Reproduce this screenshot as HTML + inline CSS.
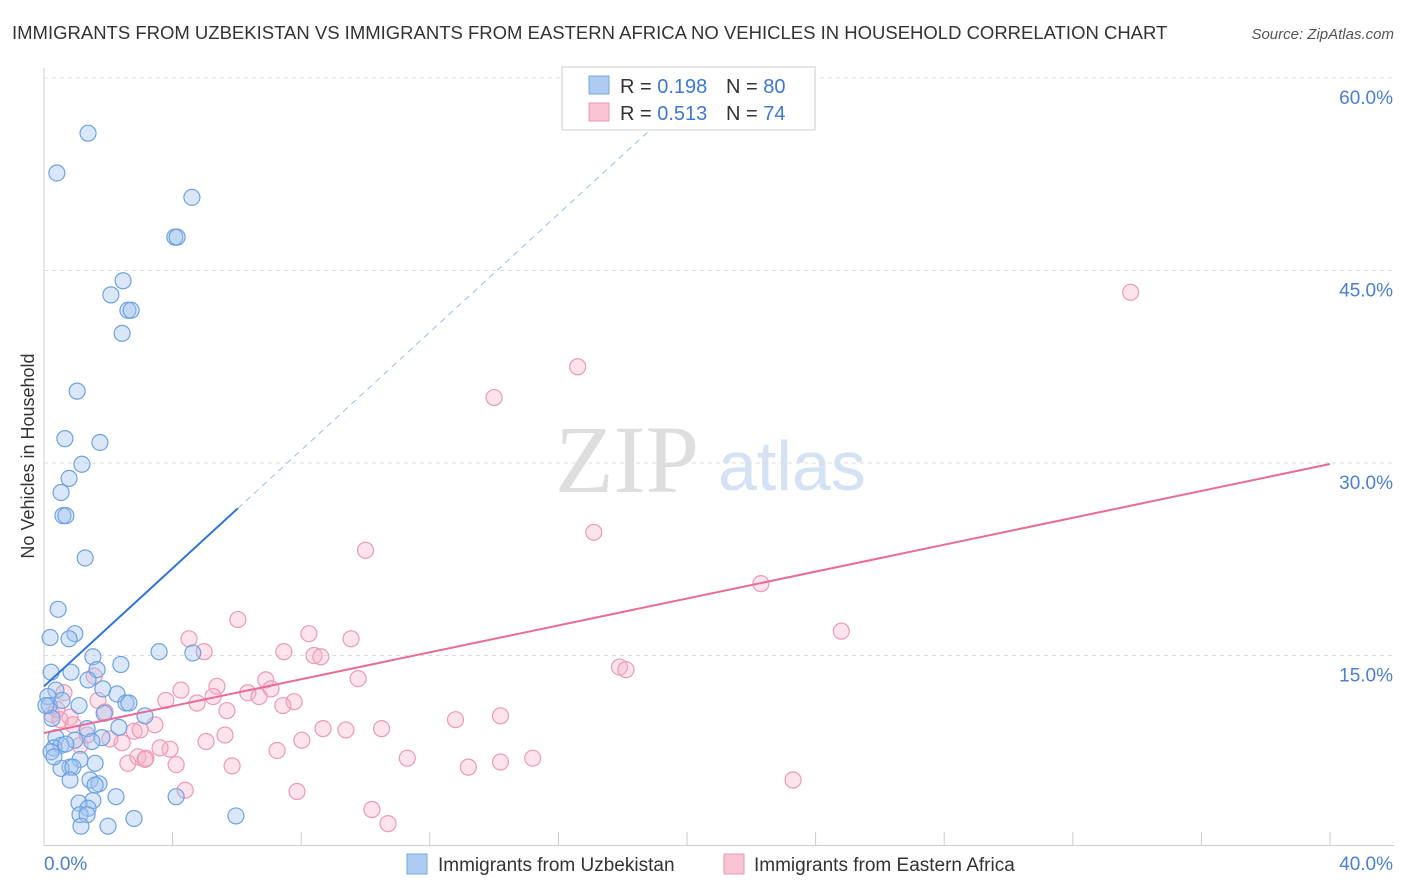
<!DOCTYPE html>
<html><head><meta charset="utf-8"><style>
body{margin:0;background:#fff;font-family:"Liberation Sans",sans-serif;}
#wrap{position:relative;width:1406px;height:892px;overflow:hidden}
</style></head><body>
<div id="wrap">
<svg id="svg" width="1406" height="892" xmlns="http://www.w3.org/2000/svg">
<text x="12" y="39" font-size="18.5" fill="#333">IMMIGRANTS FROM UZBEKISTAN VS IMMIGRANTS FROM EASTERN AFRICA NO VEHICLES IN HOUSEHOLD CORRELATION CHART</text>
<text x="1394" y="39" font-size="15" fill="#555" font-style="italic" text-anchor="end">Source: ZipAtlas.com</text>
<text transform="translate(34,456) rotate(-90)" font-size="18" fill="#333" text-anchor="middle">No Vehicles in Household</text>
<text x="555" y="492" font-size="96" fill="#dedede" font-family="Liberation Serif,serif">ZIP</text>
<text x="718" y="490" font-size="70" fill="#d4e2f4">atlas</text>
<g id="grid"></g><g id="pts"></g><g id="lines"></g>
<g>
<rect x="562" y="67" width="253" height="63" fill="#fff" stroke="#ccc"/>
<rect x="589" y="76" width="20" height="18" fill="#aecbf2" stroke="#7aa6e0"/>
<rect x="589" y="103" width="20" height="18" fill="#f8c4d4" stroke="#ec9ab5"/>
<text x="620" y="93" font-size="20" fill="#333">R = <tspan fill="#3c78d8">0.198</tspan></text>
<text x="726" y="93" font-size="20" fill="#333">N = <tspan fill="#3c78d8">80</tspan></text>
<text x="620" y="120" font-size="20" fill="#333">R = <tspan fill="#3c78d8">0.513</tspan></text>
<text x="726" y="120" font-size="20" fill="#333">N =  <tspan fill="#3c78d8">74</tspan></text>
</g>
<g>
<rect x="407" y="854" width="20" height="20" fill="#aecbf2" stroke="#7aa6e0"/>
<text x="438" y="871" font-size="19" fill="#333">Immigrants from Uzbekistan</text>
<rect x="724" y="854" width="20" height="20" fill="#f8c4d4" stroke="#ec9ab5"/>
<text x="754" y="871" font-size="19" fill="#333">Immigrants from Eastern Africa</text>
</g>
</svg></div>
<script>
const xTicks=[0,4,8,12,16,20,24,28,32,36,40];
const yTicks=[15,30,45,60];
const blueX=[1.37,0.40,4.60,4.07,4.14,2.46,2.08,2.61,2.71,2.43,1.03,0.65,1.74,0.78,1.18,0.53,0.59,0.68,1.28,0.44,0.19,0.96,0.78,1.52,1.65,2.39,3.58,4.63,0.22,0.84,1.37,0.37,1.83,2.27,2.55,2.64,3.14,0.12,0.16,1.09,1.87,0.25,1.34,2.33,0.37,0.96,1.80,0.53,0.31,0.68,1.49,0.22,1.12,1.59,0.81,0.53,0.90,1.43,0.81,1.71,1.59,2.24,1.52,1.09,1.37,1.12,1.34,2.80,1.99,1.15,5.97,4.11,0.06,0.56,0.31];
const blueY=[55.7,52.6,50.7,47.6,47.6,44.2,43.1,41.9,41.9,40.1,35.6,31.9,31.6,28.8,29.9,27.7,25.9,25.9,22.6,18.6,16.4,16.7,16.3,14.9,13.9,14.3,15.3,15.2,13.7,13.7,13.1,12.3,12.4,12.0,11.3,11.3,10.3,11.8,11.1,11.1,10.5,10.1,9.3,9.4,8.6,8.4,8.6,8.0,7.8,8.1,8.3,7.5,6.9,6.6,6.3,6.2,6.3,5.3,5.3,5.0,4.9,4.0,3.7,3.5,3.1,2.6,2.6,2.3,1.7,1.7,2.5,4.0,11.1,11.5,7.1];
const pinkX=[33.8,16.6,14.0,17.1,10.0,22.3,6.03,24.8,8.24,9.55,4.51,4.98,7.46,8.40,8.61,17.9,18.1,6.90,9.77,1.56,4.26,5.38,6.34,7.06,3.79,5.26,6.69,7.78,7.43,5.69,4.76,0.25,0.81,1.90,0.40,12.8,14.2,3.45,8.68,9.39,10.5,5.63,2.80,2.05,2.43,1.34,5.04,8.02,3.92,3.61,7.25,2.92,3.17,3.14,2.61,4.11,5.85,11.3,13.2,14.2,15.2,23.3,4.39,7.87,10.2,10.7,0.62,0.90,0.50,1.68,1.12,2.99];
const pinkY=[43.3,37.5,35.1,24.6,23.2,20.6,17.8,16.9,16.7,16.3,16.3,15.3,15.3,15.0,14.9,14.1,13.9,13.1,13.2,13.4,12.3,12.6,12.1,12.4,11.5,11.8,11.8,11.4,11.1,10.7,11.3,10.4,10.2,10.6,10.8,10.0,10.3,9.6,9.3,9.2,9.3,8.8,9.1,8.5,8.2,8.8,8.3,8.4,7.7,7.8,7.6,7.1,7.0,6.9,6.6,6.5,6.4,7.0,6.3,6.7,7.0,5.3,4.5,4.4,3.0,1.9,12.1,9.6,10.0,11.5,8.0,9.2];
const blueFit=[12.6,2.30];
const pinkFit=[8.96,0.524];
const NS="http://www.w3.org/2000/svg";
const X=v=>44+v/40*1286, Y=v=>848-v/15*192.5;
function mk(t,a,p){const e=document.createElementNS(NS,t);for(const k in a)e.setAttribute(k,a[k]);p.appendChild(e);return e;}
const grid=document.getElementById('grid');
mk('line',{x1:44,y1:68,x2:44,y2:846,stroke:'#ccc'},grid);
mk('line',{x1:44,y1:845.5,x2:1394,y2:845.5,stroke:'#ccc'},grid);
yTicks.forEach(t=>{
 const l=mk('line',{x1:44,y1:Y(t),x2:1394,y2:Y(t),stroke:'#ddd','stroke-dasharray':'4,4'},grid);
 
 
 const tx=mk('text',{x:1393,y:Y(t)+26,'font-size':19,fill:'#4a7fd6','text-anchor':'end'},grid);
 tx.textContent=t.toFixed(1)+'%';
 
 
});
xTicks.forEach(t=>{
 if(t>0){const l=mk('line',{x1:X(t),y1:832,x2:X(t),y2:846,stroke:'#ccc'},grid);
 
 }
});
[[0,'start',44],[40,'end',1393]].forEach(([t,a,x])=>{
 const tx=mk('text',{x:x,y:870,'font-size':19,fill:'#4a7fd6','text-anchor':a},grid);
 tx.textContent=t.toFixed(1)+'%';
 
 
});
const pts=document.getElementById('pts');
pinkX.forEach((v,i)=>{
 const c=mk('circle',{cx:X(v),cy:Y(pinkY[i]),r:8,fill:'rgba(246,176,200,0.35)',stroke:'#ec9ab5','stroke-width':1.2},pts);
 
 
});
blueX.forEach((v,i)=>{
 const c=mk('circle',{cx:X(v),cy:Y(blueY[i]),r:8,fill:'rgba(160,196,240,0.4)',stroke:'#6fa2e0','stroke-width':1.2},pts);
 
 
});
const lines=document.getElementById('lines');
const bx1=6.03,bx2=19.0;
let l1=mk('line',{x1:X(0),y1:Y(blueFit[0]),x2:X(bx1),y2:Y(blueFit[0]+blueFit[1]*bx1),stroke:'#2f74d8','stroke-width':2},lines);


let l2=mk('line',{x1:X(bx1),y1:Y(blueFit[0]+blueFit[1]*bx1),x2:X(bx2),y2:Y(blueFit[0]+blueFit[1]*bx2),stroke:'#9bbde8','stroke-width':1,'stroke-dasharray':'6,5'},lines);


let l3=mk('line',{x1:X(0),y1:Y(pinkFit[0]),x2:X(40),y2:Y(pinkFit[0]+pinkFit[1]*40),stroke:'#e86b98','stroke-width':2},lines);


</script>
</body></html>
